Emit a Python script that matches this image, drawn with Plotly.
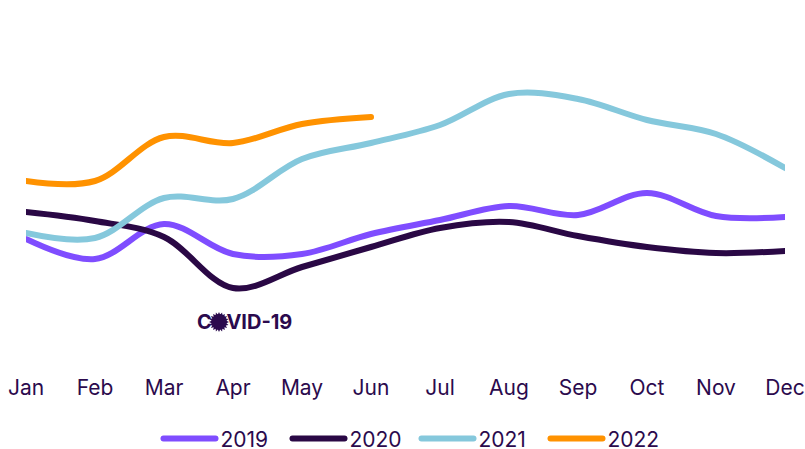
import math
import plotly.graph_objects as go

months = ["Jan","Feb","Mar","Apr","May","Jun","Jul","Aug","Sep","Oct","Nov","Dec"]
v2019 = [131,111,146,116,116,136,150,164,155,177,154,153]
v2020 = [158,149,133,82,103,123,142,148,134,123,117,119]
v2021 = [137,132,172,171,211,227,245,276,271,250,236,202]
v2022 = [189,189,233,227,246,253]
INK = "#2b0a4d"
series = [("2019",v2019,"#7f4dff"),("2020",v2020,"#2a0845"),("2021",v2021,"#85c8dc"),("2022",v2022,"#ff9200")]

fig = go.Figure()
for name, vals, col in series:
    fig.add_trace(go.Scatter(x=months[:len(vals)], y=vals, name=name, mode="lines", cliponaxis=False,
        line=dict(color=col, width=6, shape="spline", smoothing=1.0)))
fig.add_annotation(x="Apr", y=48, text="<b>COVID-19</b>", showarrow=False,
    xshift=11, font=dict(family="Inter", size=20, color=INK))
# virus icon that fills the O of the label
cx, n = -14, 20
pts = [(cx + (10 if i % 2 == 0 else 7.5)*math.cos(i*math.pi/n*1), (10 if i % 2 == 0 else 7.5)*math.sin(i*math.pi/n*1)) for i in range(2*n)]
path = "M" + " L".join(f"{x:.1f},{y:.1f}" for x, y in pts) + " Z"
fig.add_shape(type="path", path=path, xref="x", yref="y", xsizemode="pixel", ysizemode="pixel",
    xanchor="Apr", yanchor=48, fillcolor=INK, line=dict(width=0))
fig.update_layout(width=805, height=449, margin=dict(l=26,r=20,t=0,b=79,autoexpand=False),
    paper_bgcolor="white", plot_bgcolor="white",
    font=dict(family="Inter", size=21, color=INK), hovermode=False,
    xaxis=dict(type="category", categoryorder="array", categoryarray=months, range=[0,11],
        showgrid=False, zeroline=False, showline=False, ticks="", tickfont=dict(size=21),
        ticklabelstandoff=3, automargin=False),
    yaxis=dict(range=[0,370], visible=False),
    legend=dict(orientation="h", x=0.5145, xanchor="center", y=-0.131, yanchor="top",
        itemwidth=52, entrywidth=62, entrywidthmode="pixels", font=dict(size=21),
        traceorder="normal", tracegroupgap=0))
fig.write_html("out.html", config={"displayModeBar": False},
    post_script="document.documentElement.style.margin='0';document.body.style.margin='0';document.querySelectorAll('.js-line,.legendlines path').forEach(function(p){p.style.strokeLinecap='round';});")
